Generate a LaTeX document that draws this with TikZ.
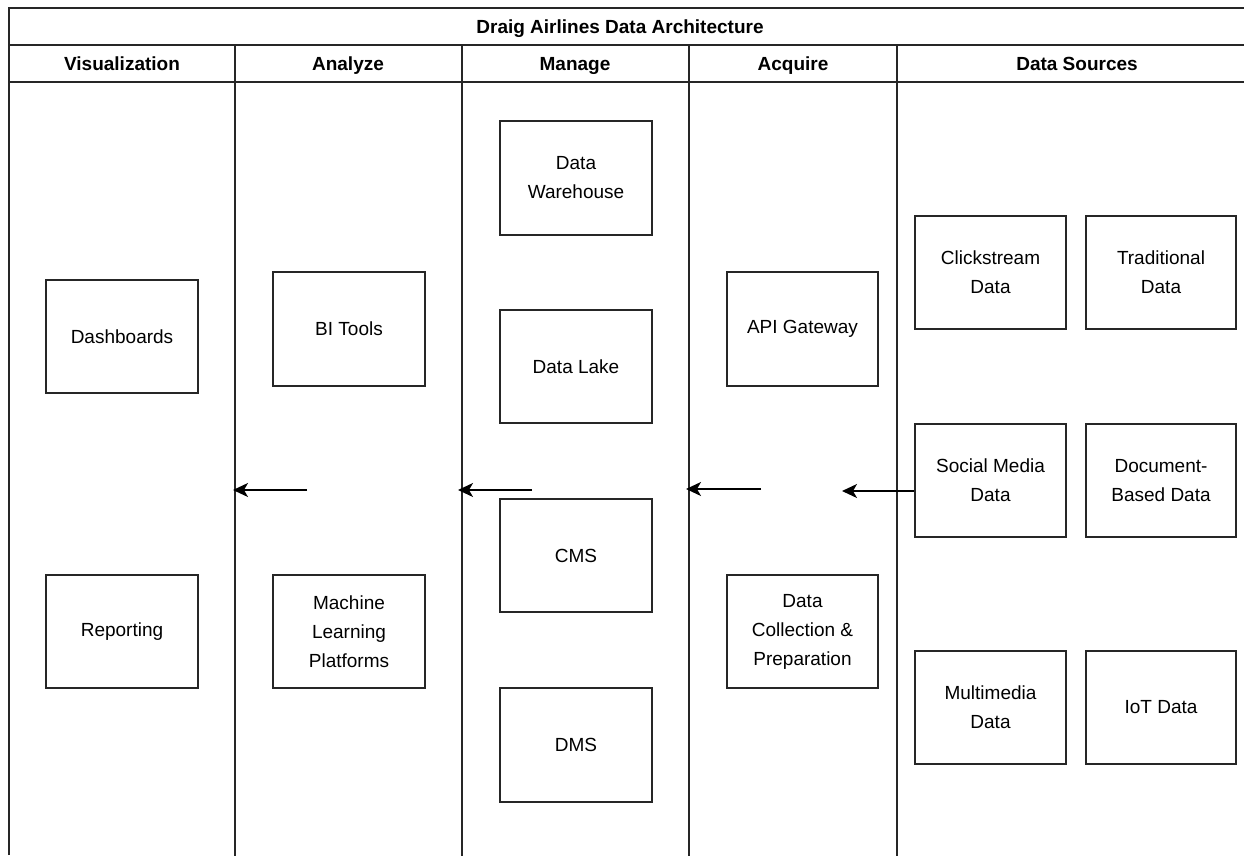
\documentclass[tikz,border=0pt]{standalone}
\usepackage{fontspec}
\setmainfont{Liberation Sans}
\usetikzlibrary{arrows.meta}
\begin{document}
\begin{tikzpicture}[x=1pt,y=-1pt,
  frame/.style={line width=1.8pt,draw=black!85},
  box/.style={draw=black!85,line width=1.6pt,align=center,inner sep=0pt,
    font=\fontsize{19}{29}\selectfont},
  hdr/.style={font=\bfseries\fontsize{19}{23}\selectfont,inner sep=0pt,anchor=base},
  flow/.style={line width=1.5pt,-{Stealth[length=15pt,width=14pt,inset=4pt]}}]
\useasboundingbox (0,0) rectangle (1244,855);
% frame
\draw[frame] (9,855) -- (9,8) -- (1250,8);
\draw[frame] (9,45) -- (1250,45);
\draw[frame] (9,82) -- (1250,82);
\foreach \x in {235,462,689,897} \draw[frame] (\x,45) -- (\x,858);
% headers
\node[hdr] (title) at (620,33) {Draig Airlines Data Architecture};
\node[hdr] (hvis) at (122,70) {Visualization};
\node[hdr] (hana) at (348,70) {Analyze};
\node[hdr] (hman) at (575,70) {Manage};
\node[hdr] (hacq) at (793,70) {Acquire};
\node[hdr] (hsrc) at (1077,70) {Data Sources};
% boxes
\newcommand{\bx}[6]{\node[box,minimum width=#4-#2,minimum height=#5-#3] (#1) at ({(#2+#4)/2},{(#3+#5)/2}) {#6};}
\bx{dash}{46}{280}{198}{393}{Dashboards}
\bx{rep}{46}{575}{198}{688}{Reporting}
\bx{bi}{273}{272}{425}{386}{BI Tools}
\bx{ml}{273}{575}{425}{688}{Machine\\Learning\\Platforms}
\bx{dw}{500}{121}{652}{235}{Data\\Warehouse}
\bx{dl}{500}{310}{652}{423}{Data Lake}
\bx{cms}{500}{499}{652}{612}{CMS}
\bx{dms}{500}{688}{652}{802}{DMS}
\bx{api}{727}{272}{878}{386}{API Gateway}
\bx{dcp}{727}{575}{878}{688}{Data\\Collection \&\\Preparation}
\bx{click}{915}{216}{1066}{329}{Clickstream\\Data}
\bx{trad}{1086}{216}{1236}{329}{Traditional\\Data}
\bx{soc}{915}{424}{1066}{537}{Social Media\\Data}
\bx{doc}{1086}{424}{1236}{537}{Document-\\Based Data}
\bx{multi}{915}{651}{1066}{764}{Multimedia\\Data}
\bx{iot}{1086}{651}{1236}{764}{IoT Data}
% arrows
\coordinate (a1s) at (307,490); \coordinate (a1e) at (233,490);
\coordinate (a2s) at (532,490); \coordinate (a2e) at (458,490);
\coordinate (a3s) at (761,489); \coordinate (a3e) at (686,489);
\coordinate (a4e) at (842,491);
\draw[flow] (a1s) -- (a1e);
\draw[flow] (a2s) -- (a2e);
\draw[flow] (a3s) -- (a3e);
\draw[flow] (soc.west |- a4e) -- (a4e);
\end{tikzpicture}
\end{document}
